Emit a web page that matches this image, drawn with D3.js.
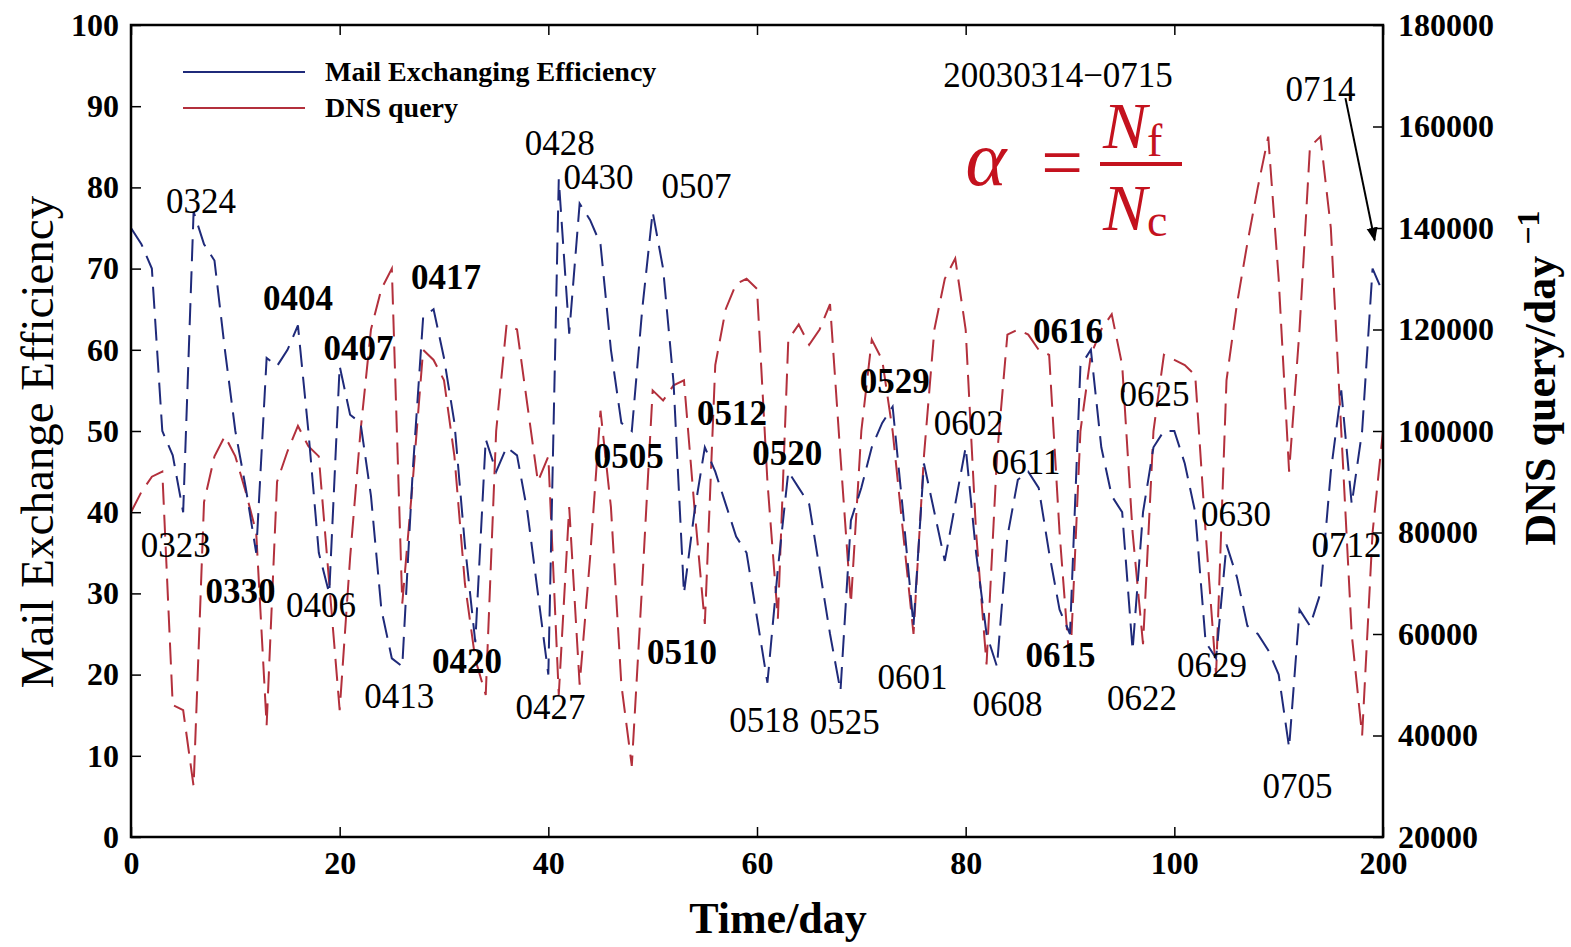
<!DOCTYPE html>
<html>
<head>
<meta charset="utf-8">
<script src="https://cdn.jsdelivr.net/npm/d3@7/dist/d3.min.js"></script>
<style>
  body { margin: 0; background: #fff; }
  text { font-family: "Liberation Serif", "Times New Roman", serif; }
</style>
</head>
<body>
<svg id="chart" width="1571" height="947"></svg>
<script>
// day index (x axis)
var days = [0,1,2,3,4,5,6,7,8,9,10,11,12,13,14,15,16,17,18,19,20,
  21,22,23,24,25,26,27,28,29,30,31,32,33,34,35,36,37,38,39,40,
  41,42,43,44,45,46,47,48,49,50,51,52,53,54,55,56,57,58,59,60,
  61,62,63,64,65,66,67,68,69,70,71,72,73,74,75,76,77,78,79,80,
  81,82,83,84,85,86,87,88,89,90,91,92,93,94,95,96,97,98,99,100,
  101,102,103,104,105,106,107,108,109,110,111,112,113,114,115,116,117,118,119,120];

// Mail exchange efficiency (left axis)
var efficiency = [75,73,70,50,47,40,77,73,71,60,50,43,35,59,58,60,63,50,35,30,58,
  52,51,42,28,22,21,45,64,65,59,51,36,24,49,45,48,47,40,30,20,
  81,62,78,76,73,60,51,50,65,77,70,56,30,40,48,45,41,37,35,27,
  19,33,45,43,41,33,25,18,39,43,48,51,53,40,26,46,40,34,41,48,
  35,25,21,37,44,45,43,35,28,25,58,60,48,42,40,23,40,48,50,50,
  46,40,24,22,36,32,26,25,23,20,11,28,26,30,45,55,41,50,70,67];

// DNS query per day (right axis)
var dnsQuery = [84000,88000,91000,92000,46000,45000,30000,86000,95000,99000,95000,88000,80000,42000,90000,96000,101000,97000,95000,70000,45000,
  75000,100000,120000,128000,132000,66000,90000,116000,114000,110000,95000,70000,55000,48000,100000,121000,120000,105000,90000,95000,
  48000,85000,50000,75000,104000,85000,50000,34000,70000,108000,106000,109000,110000,85000,62000,113000,124000,129000,130000,128000,
  90000,63000,118000,121000,117000,120000,125000,95000,66000,100000,118000,114000,100000,80000,60000,95000,120000,130000,134000,120000,
  80000,54000,95000,119000,120000,119000,116000,115000,80000,53000,100000,115000,120000,123000,113000,80000,58000,100000,115000,114000,
  113000,111000,80000,52000,110000,125000,137000,148000,158000,130000,92000,120000,156000,158000,140000,100000,60000,40000,80000,100000];

var xTicks = [0, 20, 40, 60, 80, 100, 120];
var xTickLabels = ["0", "20", "40", "60", "80", "100", "200"];
var yTicks = [0, 10, 20, 30, 40, 50, 60, 70, 80, 90, 100];
var y2Ticks = [20000, 40000, 60000, 80000, 100000, 120000, 140000, 160000, 180000];

// date labels: [text, day, efficiency]
var dateLabels = [
  ["0323", 4.3, 36.0], ["0324", 6.7, 78.4], ["0330", 10.5, 30.4], ["0404", 16.0, 66.5],
  ["0406", 18.2, 28.6], ["0407", 21.8, 60.3], ["0413", 25.7, 17.5], ["0417", 30.2, 69.1],
  ["0420", 32.2, 21.7], ["0427", 40.2, 16.1], ["0428", 41.1, 85.6], ["0430", 44.8, 81.3],
  ["0505", 47.7, 47.0], ["0507", 54.2, 80.2], ["0510", 52.8, 22.9], ["0512", 57.6, 52.3],
  ["0518", 60.7, 14.5], ["0520", 62.9, 47.4], ["0525", 68.4, 14.2], ["0529", 73.2, 56.2],
  ["0601", 74.9, 19.8], ["0602", 80.3, 51.1], ["0608", 84.0, 16.4], ["0611", 85.8, 46.3],
  ["0615", 89.1, 22.5], ["0616", 89.8, 62.4], ["0622", 96.9, 17.2], ["0625", 98.1, 54.6],
  ["0629", 103.6, 21.3], ["0630", 105.9, 39.9], ["0705", 111.8, 6.4], ["0712", 116.5, 36.0],
  ["0714", 114.0, 92.2]
];
var boldLabels = ["0330", "0404", "0407", "0417", "0420", "0505", "0510", "0512", "0520", "0529", "0615", "0616"];

// arrow from the 0714 label to its point: [day, efficiency] pairs
var arrow0714 = [[116.4, 91.0], [119.2, 73.5]];

var blue = "#1f2a7a";
var red = "#b3303c";

var svg = d3.select("#chart");

var x = d3.scaleLinear().domain([0, 120]).range([131, 1383]);
var y = d3.scaleLinear().domain([0, 100]).range([837, 25]);
var y2 = d3.scaleLinear().domain([20000, 180000]).range([837, 25]);

// arrowhead
svg.append("defs").append("marker")
  .attr("id", "arrowhead")
  .attr("viewBox", "0 0 10 10")
  .attr("refX", 9)
  .attr("refY", 5)
  .attr("markerWidth", 7)
  .attr("markerHeight", 7)
  .attr("orient", "auto")
  .append("path")
  .attr("d", "M0,1 L10,5 L0,9 z")
  .attr("fill", "#000");

// series lines
var effLine = d3.line()
  .x(function (d, i) { return x(days[i]); })
  .y(function (d) { return y(d); });

var dnsLine = d3.line()
  .x(function (d, i) { return x(days[i]); })
  .y(function (d) { return y2(d); });

svg.append("path")
  .datum(dnsQuery)
  .attr("d", dnsLine)
  .attr("fill", "none")
  .attr("stroke", red)
  .attr("stroke-width", 2)
  .attr("stroke-dasharray", "22,10");

svg.append("path")
  .datum(efficiency)
  .attr("d", effLine)
  .attr("fill", "none")
  .attr("stroke", blue)
  .attr("stroke-width", 2)
  .attr("stroke-dasharray", "22,10");

// axes
function styleAxis(g) {
  g.select(".domain").remove();
  g.selectAll(".tick line").attr("stroke", "#000").attr("stroke-width", 1.5);
  g.selectAll(".tick text")
    .attr("fill", "#000")
    .style("font-family", "'Liberation Serif', serif")
    .style("font-weight", "bold")
    .style("font-size", "32px");
}

svg.append("g")
  .attr("transform", "translate(131,0)")
  .call(d3.axisLeft(y).tickValues(yTicks).tickSize(-10).tickPadding(12))
  .call(styleAxis);

svg.append("g")
  .attr("transform", "translate(1383,0)")
  .call(d3.axisRight(y2).tickValues(y2Ticks).tickSize(-10).tickPadding(15)
    .tickFormat(d3.format("d")))
  .call(styleAxis);

svg.append("g")
  .attr("transform", "translate(0,837)")
  .call(d3.axisBottom(x).tickValues(xTicks).tickSize(-10).tickPadding(14)
    .tickFormat(function (d, i) { return xTickLabels[i]; }))
  .call(styleAxis);

svg.append("g")
  .attr("transform", "translate(0,25)")
  .call(d3.axisTop(x).tickValues(xTicks).tickSize(-10).tickFormat(""))
  .call(styleAxis);

// frame
svg.append("rect")
  .attr("x", 131)
  .attr("y", 25)
  .attr("width", 1383 - 131)
  .attr("height", 837 - 25)
  .attr("fill", "none")
  .attr("stroke", "#000")
  .attr("stroke-width", 2.5);

// axis titles
svg.append("text")
  .attr("transform", "translate(53,442) rotate(-90)")
  .attr("text-anchor", "middle")
  .style("font-size", "47px")
  .text("Mail Exchange Efficiency");

svg.append("text")
  .attr("x", 778)
  .attr("y", 933)
  .attr("text-anchor", "middle")
  .style("font-size", "44px")
  .style("font-weight", "bold")
  .text("Time/day");

var rightTitle = svg.append("text")
  .attr("transform", "translate(1555,378) rotate(-90)")
  .attr("text-anchor", "middle")
  .style("font-size", "44px")
  .style("font-weight", "bold");
rightTitle.append("tspan").text("DNS query/day ");
rightTitle.append("tspan").attr("dy", -16).style("font-size", "32px").text("\u22121");

// legend
var legend = [["Mail Exchanging Efficiency", blue], ["DNS query", red]];
legend.forEach(function (l, i) {
  var ly = 72 + i * 36;
  svg.append("line")
    .attr("x1", 183).attr("x2", 305)
    .attr("y1", ly).attr("y2", ly)
    .attr("stroke", l[1])
    .attr("stroke-width", 1.8);
  svg.append("text")
    .attr("x", 325)
    .attr("y", ly + 9)
    .style("font-size", "28px")
    .style("font-weight", "bold")
    .text(l[0]);
});

// date range label
svg.append("text")
  .attr("x", 1058)
  .attr("y", 87)
  .attr("text-anchor", "middle")
  .style("font-size", "35px")
  .text("20030314\u22120715");

// formula alpha = Nf / Nc
var formula = svg.append("g").attr("fill", "#c4121e");
formula.append("text")
  .attr("x", 986).attr("y", 185)
  .attr("text-anchor", "middle")
  .style("font-size", "78px")
  .style("font-style", "italic")
  .text("\u03b1");
formula.append("text")
  .attr("x", 1062).attr("y", 187)
  .attr("text-anchor", "middle")
  .style("font-size", "74px")
  .text("=");
var num = formula.append("text")
  .attr("x", 1103).attr("y", 148)
  .style("font-size", "66px")
  .style("font-style", "italic");
num.append("tspan").text("N");
num.append("tspan").attr("dy", 8).style("font-size", "46px").style("font-style", "normal").text("f");
formula.append("rect")
  .attr("x", 1100).attr("y", 162)
  .attr("width", 82).attr("height", 4);
var den = formula.append("text")
  .attr("x", 1103).attr("y", 230)
  .style("font-size", "66px")
  .style("font-style", "italic");
den.append("tspan").text("N");
den.append("tspan").attr("dy", 6).style("font-size", "46px").style("font-style", "normal").text("c");

// date labels
svg.selectAll("text.date")
  .data(dateLabels)
  .enter()
  .append("text")
  .attr("class", "date")
  .attr("x", function (d) { return x(d[1]); })
  .attr("y", function (d) { return y(d[2]); })
  .attr("dy", "0.36em")
  .attr("text-anchor", "middle")
  .style("font-size", "35px")
  .style("font-weight", function (d) { return boldLabels.indexOf(d[0]) >= 0 ? "bold" : "normal"; })
  .text(function (d) { return d[0]; });

svg.append("line")
  .attr("x1", x(arrow0714[0][0])).attr("y1", y(arrow0714[0][1]))
  .attr("x2", x(arrow0714[1][0])).attr("y2", y(arrow0714[1][1]))
  .attr("stroke", "#000")
  .attr("stroke-width", 2)
  .attr("marker-end", "url(#arrowhead)");
</script>
</body>
</html>
